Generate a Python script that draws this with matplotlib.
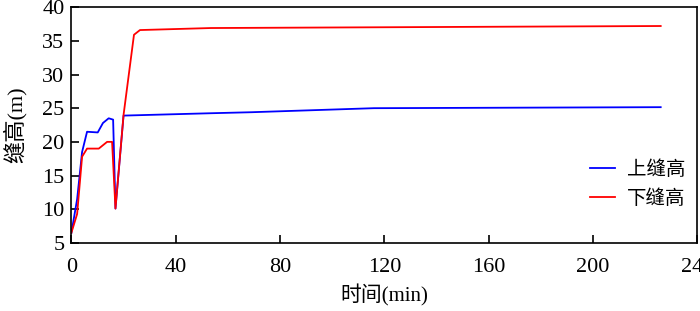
import matplotlib
matplotlib.use('agg')
import matplotlib.pyplot as plt

# time (min) and crack heights (m)
upper_t = [0, 2.2, 4.1, 6.0, 10.1, 12.1, 14.3, 16.0, 16.9, 20.0, 53.5, 69, 116, 226]
upper_h = [6.5, 11.5, 18.5, 21.5, 21.4, 22.8, 23.5, 23.3, 10.1, 23.9, 24.25, 24.4, 25.0, 25.15]

lower_t = [0, 2.2, 4.1, 6.0, 10.5, 13.7, 15.6, 16.9, 20.0, 24.0, 26.3, 53.5, 226]
lower_h = [6.5, 9.3, 17.8, 19.0, 19.0, 20.0, 20.0, 10.1, 24.0, 35.9, 36.6, 36.9, 37.2]

x_ticks = [0, 40, 80, 120, 160, 200, 240]
y_ticks = [5, 10, 15, 20, 25, 30, 35, 40]

plt.rcParams['font.family'] = ['Liberation Serif', 'Noto Sans CJK SC']

fig = plt.figure(figsize=(7, 3.11), dpi=100)
ax = fig.add_axes([0.102, 0.219, 0.894, 0.758])

ax.plot(upper_t, upper_h, color='#0000ff', lw=1.3, label='上缝高')
ax.plot(lower_t, lower_h, color='#ff0000', lw=1.3, label='下缝高')

ax.set_xlim(0, 240)
ax.set_ylim(5, 40)
ax.set_xticks(x_ticks)
ax.set_yticks(y_ticks)
ax.tick_params(direction='in', length=6, width=1.2, labelsize=16)
ax.tick_params(axis='x', pad=11)
ax.tick_params(axis='y', pad=5)
for s in ax.spines.values():
    s.set_linewidth(1.2)

ax.set_xlabel('时间(min)', fontsize=15, labelpad=5)
ax.set_ylabel('缝高(m)', fontsize=16, labelpad=11)

ax.legend(loc='center right', bbox_to_anchor=(1.0, 0.25), frameon=False,
          borderaxespad=0.2, handlelength=1.3, handletextpad=0.6,
          labelspacing=0.55, fontsize=14)

fig.savefig('out.png', dpi=100)
